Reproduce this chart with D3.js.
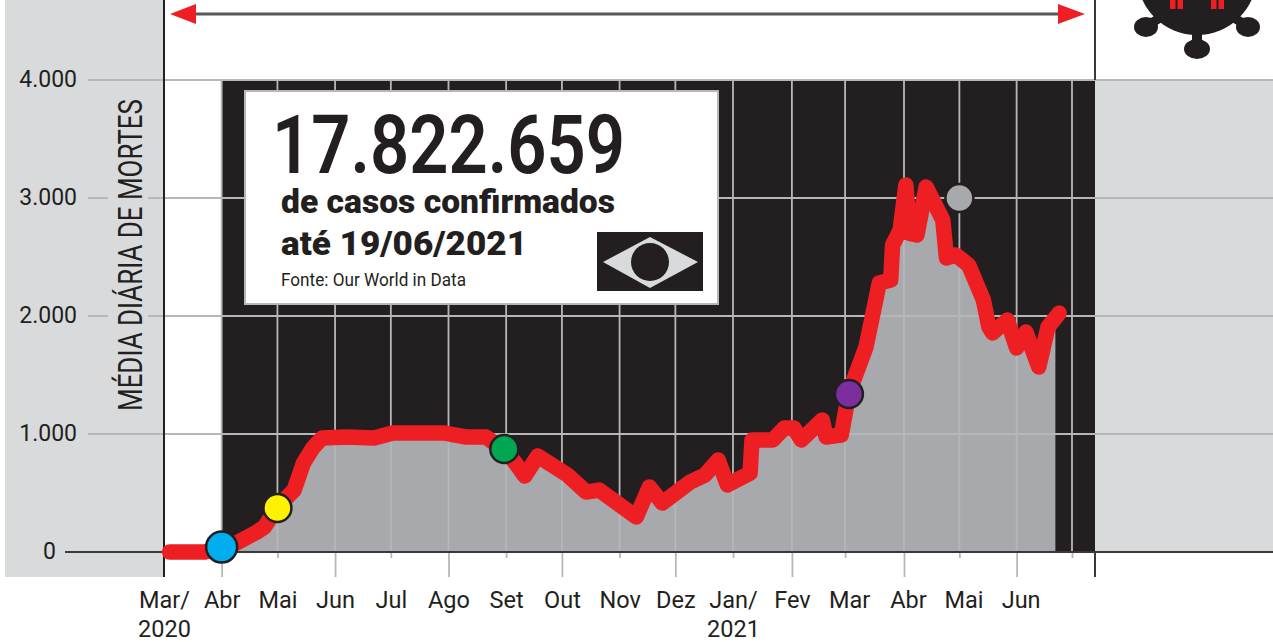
<!DOCTYPE html>
<html>
<head>
<meta charset="utf-8">
<script src="https://cdn.jsdelivr.net/npm/d3@7"></script>
<style>
body { margin: 0; background: #fff; }
svg { display: block; font-family: Roboto, sans-serif; }
</style>
</head>
<body>
<script>
// month ticks along the bottom
var monthDates = ["2020-03-01","2020-04-01","2020-05-01","2020-06-01","2020-07-01","2020-08-01","2020-09-01","2020-10-01","2020-11-01","2020-12-01","2021-01-01","2021-02-01","2021-03-01","2021-04-01","2021-05-01","2021-06-01","2021-07-01"];
var monthLabels = ["Mar/\n2020","Abr","Mai","Jun","Jul","Ago","Set","Out","Nov","Dez","Jan/\n2021","Fev","Mar","Abr","Mai","Jun",""];
var yTicks = [0, 1000, 2000, 3000, 4000];

// daily deaths
var dates = ["2020-03-04","2020-03-23","2020-04-01","2020-04-09","2020-04-20","2020-04-24","2020-05-01","2020-05-10","2020-05-15","2020-05-20","2020-05-25","2020-06-07","2020-06-22","2020-07-02","2020-07-30","2020-08-10","2020-08-21","2020-08-31","2020-09-06","2020-09-11","2020-09-18","2020-10-04","2020-10-14","2020-10-21","2020-11-10","2020-11-17","2020-11-24","2020-12-09","2020-12-17","2020-12-24","2020-12-29","2021-01-10","2021-01-11","2021-01-22","2021-01-28","2021-02-02","2021-02-06","2021-02-17","2021-02-19","2021-02-27","2021-03-03","2021-03-12","2021-03-19","2021-03-25","2021-03-26","2021-03-30","2021-04-02","2021-04-04","2021-04-08","2021-04-13","2021-04-22","2021-04-24","2021-04-29","2021-05-06","2021-05-14","2021-05-17","2021-05-19","2021-05-27","2021-06-01","2021-06-06","2021-06-13","2021-06-18","2021-06-22","2021-06-24"];
var deaths = [0,0,42,76,170,212,381,525,754,881,966,975,966,1008,1008,975,975,864,754,644,814,653,508,525,297,551,415,593,653,780,568,669,949,949,1051,1051,949,1119,975,992,1347,1737,2280,2305,2602,2729,3110,2700,2686,3093,2814,2492,2517,2432,2136,1907,1856,1966,1729,1864,1568,1907,1983,2025];
var areaEnd = "2021-06-22";

// coloured dots on the curve
var dotDates = ["2020-04-01","2020-05-01","2020-08-31","2021-03-03","2021-05-01"];
var dotValues = [42,373,873,1339,3000];
var dotColors = ["#00aeef","#fff200","#00a651","#7b2f9e","#a7a9ac"];
var dotSizes = [15.5,14,14,14,14];

var w = 1273, h = 642;
var ink = "#231f20", red = "#ee1f23", panel = "#d9dadc", grid = "#b6b7b9", areaGrey = "#a7a9ac";
var parse = d3.utcParse("%Y-%m-%d");

var series = dates.map(function(d, i){ return {date: parse(d), value: deaths[i]}; });

var x = d3.scaleUtc()
    .domain([parse("2020-03-01"), parse("2021-01-01"), parse("2021-04-01"), parse("2021-07-01"), parse("2021-07-13")])
    .range([164, 733, 904, 1072, 1095]);
var y = d3.scaleLinear().domain([0, 4000]).range([552, 80]);

var svg = d3.select("body").append("svg").attr("width", w).attr("height", h);

// background panels
svg.append("rect").attr("x", 5).attr("y", 0).attr("width", 159).attr("height", 577).attr("fill", panel);
svg.append("rect").attr("x", x.range()[4]).attr("y", y(4000)).attr("width", w - x.range()[4]).attr("height", y(0) - y(4000)).attr("fill", panel);
svg.append("rect").attr("x", x(parse("2020-04-01"))).attr("y", y(4000)).attr("width", x.range()[4] - x(parse("2020-04-01"))).attr("height", y(0) - y(4000)).attr("fill", ink);

// grey area under the curve
var area = d3.area().x(function(d){ return x(d.date); }).y0(y(0)).y1(function(d){ return y(d.value); });
svg.append("path")
    .datum(series.filter(function(d){ return d.date >= parse("2020-04-01") && d.date <= parse(areaEnd); }))
    .attr("fill", areaGrey)
    .attr("d", area);

// vertical grid
svg.append("g").selectAll("line")
    .data(monthDates.slice(1))
    .enter().append("line")
    .attr("x1", function(d){ return x(parse(d)); })
    .attr("x2", function(d){ return x(parse(d)); })
    .attr("y1", y(4000)).attr("y2", y(0))
    .attr("stroke", grid).attr("stroke-width", 1.8);

// horizontal grid
svg.append("g").selectAll("line")
    .data(yTicks.slice(1))
    .enter().append("line")
    .attr("x1", 88).attr("x2", w)
    .attr("y1", function(d){ return y(d); })
    .attr("y2", function(d){ return y(d); })
    .attr("stroke", grid).attr("stroke-width", 2);

// y label, with a gap cut in the grid
svg.append("rect").attr("x", 108).attr("y", 95).attr("width", 40).attr("height", 320).attr("fill", panel);
svg.append("text")
    .attr("transform", "translate(142,411) rotate(-90)")
    .attr("font-size", 33).attr("font-weight", 400).attr("fill", ink)
    .attr("textLength", 312).attr("lengthAdjust", "spacingAndGlyphs")
    .text("MÉDIA DIÁRIA DE MORTES");

// y axis
var fmt = d3.formatLocale({decimal: ",", thousands: ".", grouping: [3], currency: ["", ""]}).format(",d");
var yAxis = svg.append("g").attr("transform", "translate(77,0)")
    .call(d3.axisLeft(y).tickValues(yTicks).tickSize(0).tickPadding(0).tickFormat(fmt));
yAxis.select(".domain").remove();
yAxis.selectAll("text")
    .attr("font-family", "Roboto, sans-serif").attr("font-size", 23).attr("font-weight", 400).attr("fill", ink)
    .attr("dy", "0.3em")
    .attr("x", function(d){ return d === 0 ? -21 : 0; });

// x axis
var xAxis = svg.append("g").attr("transform", "translate(0," + y(0) + ")")
    .call(d3.axisBottom(x)
        .tickValues(monthDates.map(parse))
        .tickSize(25).tickPadding(0)
        .tickFormat(function(d, i){ return monthLabels[i]; }));
xAxis.select(".domain").remove();
xAxis.selectAll("line")
    .attr("stroke", grid).attr("stroke-width", 1.8)
    .attr("y2", function(d, i){ return i % 2 ? 25 : 6; })
    .filter(function(d, i){ return i === 0; }).remove();
xAxis.selectAll("text").each(function(d, i){
    var parts = monthLabels[i].split("\n");
    // the 2021 labels from March on sit a little right of their ticks
    var shift = i >= 12 ? 4 : 0;
    var t = d3.select(this).text(null)
        .attr("font-family", "Roboto, sans-serif").attr("font-size", 23.5).attr("font-weight", 400).attr("fill", ink)
        .attr("y", 56).attr("dy", 0);
    parts.forEach(function(p, k){
        t.append("tspan").attr("x", shift).attr("y", 56 + k * 28.5).text(p);
    });
});

// frame lines
svg.append("line").attr("x1", 65).attr("x2", w).attr("y1", y(0)).attr("y2", y(0)).attr("stroke", "#3a3839").attr("stroke-width", 2);
svg.append("line").attr("x1", 164).attr("x2", 164).attr("y1", 0).attr("y2", 577).attr("stroke", ink).attr("stroke-width", 2);
svg.append("line").attr("x1", 1095).attr("x2", 1095).attr("y1", 0).attr("y2", y(4000)).attr("stroke", "#3a3839").attr("stroke-width", 2);
svg.append("line").attr("x1", 1095).attr("x2", 1095).attr("y1", y(0)).attr("y2", 577).attr("stroke", "#3a3839").attr("stroke-width", 2);

// the curve
var line = d3.line().x(function(d){ return x(d.date); }).y(function(d){ return y(d.value); });
svg.append("path")
    .datum(series)
    .attr("fill", "none")
    .attr("stroke", red).attr("stroke-width", 15.5)
    .attr("stroke-linejoin", "round").attr("stroke-linecap", "round")
    .attr("d", line);

// dots
svg.append("g").selectAll("circle")
    .data(dotDates)
    .enter().append("circle")
    .attr("cx", function(d){ return x(parse(d)); })
    .attr("cy", function(d, i){ return y(dotValues[i]); })
    .attr("r", function(d, i){ return dotSizes[i]; })
    .attr("fill", function(d, i){ return dotColors[i]; })
    .attr("stroke", ink).attr("stroke-width", 2.5);

// top arrow
svg.append("line").attr("x1", 190).attr("x2", 1065).attr("y1", 14).attr("y2", 14).attr("stroke", "#58585a").attr("stroke-width", 3);
svg.append("path").attr("d", "M170,14L196,4L196,24Z").attr("fill", red);
svg.append("path").attr("d", "M1085,14L1058,4L1058,24Z").attr("fill", red);

// virus in the corner
var virus = svg.append("g").attr("fill", ink).attr("stroke", ink);
virus.append("circle").attr("cx", 1197).attr("cy", -25).attr("r", 60).attr("stroke", "none");
virus.append("line").attr("x1", 1197).attr("x2", 1197).attr("y1", 30).attr("y2", 48).attr("stroke-width", 10);
virus.append("ellipse").attr("cx", 1197).attr("cy", 49).attr("rx", 13).attr("ry", 10).attr("stroke", "none");
virus.append("line").attr("x1", 1148).attr("x2", 1165).attr("y1", 25).attr("y2", 15).attr("stroke-width", 9);
virus.append("ellipse").attr("cx", 1146).attr("cy", 27).attr("rx", 12).attr("ry", 10).attr("stroke", "none");
virus.append("line").attr("x1", 1246).attr("x2", 1229).attr("y1", 25).attr("y2", 15).attr("stroke-width", 9);
virus.append("ellipse").attr("cx", 1248).attr("cy", 27).attr("rx", 12).attr("ry", 10).attr("stroke", "none");
[1170, 1177.5, 1211, 1218.5].forEach(function(bx){
    svg.append("rect").attr("x", bx).attr("y", 0).attr("width", 5.5).attr("height", 9).attr("fill", red);
});

// white box with the total
var box = svg.append("g");
box.append("rect").attr("x", 245).attr("y", 91).attr("width", 473).attr("height", 213)
    .attr("fill", "#fff").attr("stroke", grid).attr("stroke-width", 2);
box.append("text").attr("x", 272).attr("y", 173)
    .attr("font-size", 82).attr("font-weight", 600).attr("fill", ink)
    .attr("textLength", 353).attr("lengthAdjust", "spacingAndGlyphs")
    .text("17.822.659");
box.append("text").attr("x", 281).attr("y", 213)
    .attr("font-size", 33).attr("font-weight", 900).attr("fill", ink)
    .attr("textLength", 334).attr("lengthAdjust", "spacingAndGlyphs")
    .text("de casos confirmados");
box.append("text").attr("x", 281).attr("y", 255)
    .attr("font-size", 33).attr("font-weight", 900).attr("fill", ink)
    .attr("textLength", 246).attr("lengthAdjust", "spacingAndGlyphs")
    .text("até 19/06/2021");
box.append("text").attr("x", 281).attr("y", 286)
    .attr("font-size", 19).attr("font-weight", 400).attr("fill", ink)
    .attr("textLength", 185).attr("lengthAdjust", "spacingAndGlyphs")
    .text("Fonte: Our World in Data");

// flag
box.append("rect").attr("x", 597).attr("y", 232).attr("width", 106).attr("height", 59).attr("fill", ink);
box.append("path").attr("d", "M603,262L650,237L698,262L650,288Z").attr("fill", panel);
box.append("circle").attr("cx", 650).attr("cy", 262).attr("r", 19).attr("fill", ink);
</script>
</body>
</html>
